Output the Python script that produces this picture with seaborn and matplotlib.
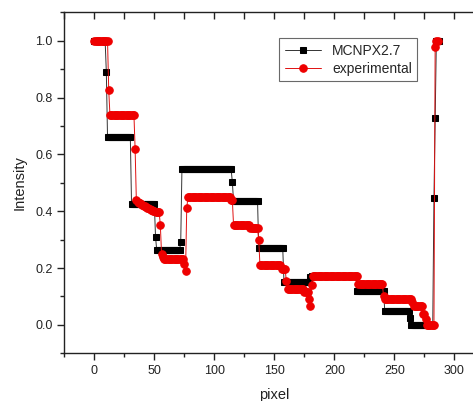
import numpy as np
import pandas as pd
import matplotlib
matplotlib.use("Agg")
import matplotlib.pyplot as plt
from matplotlib.ticker import MultipleLocator, FormatStrFormatter
import seaborn as sns

# MCNPX2.7 simulation: step levels and how many pixels each level lasts
mcnp_levels = [1.0, 0.89, 0.66, 0.425, 0.31, 0.262, 0.293, 0.548, 0.503, 0.436,
               0.27, 0.152, 0.167, 0.172, 0.12, 0.05, 0.025, 0.0, 0.445, 0.729, 1.0]
mcnp_counts = [10, 1, 20, 20, 1, 20, 1, 42, 1, 21,
               21, 22, 1, 38, 23, 21, 1, 19, 1, 1, 3]

# experimental profile, same run-length layout
exp_levels = [1.0, 0.826, 0.74, 0.618, 0.44,
              0.432, 0.43, 0.428, 0.425, 0.422, 0.42, 0.417, 0.415, 0.412, 0.41,
              0.407, 0.405, 0.403, 0.40, 0.40, 0.398, 0.398, 0.397, 0.397,
              0.352, 0.25, 0.24, 0.232, 0.215, 0.188, 0.41, 0.45, 0.44,
              0.352, 0.34, 0.30, 0.21, 0.195, 0.155, 0.125, 0.115, 0.09, 0.067, 0.14,
              0.173, 0.145, 0.10, 0.09, 0.08, 0.067, 0.04, 0.02, 0.0, 0.98, 1.0]
exp_counts = [12, 1, 21, 1, 1,
              1, 1, 1, 1, 1, 1, 1, 1, 1, 1,
              1, 1, 1, 1, 1, 1, 1, 1, 1,
              1, 1, 1, 17, 1, 1, 1, 36, 2,
              14, 7, 1, 18, 4, 1, 14, 4, 1, 1, 1,
              38, 21, 1, 23, 1, 8, 2, 1, 7, 1, 2]

mcnp = np.repeat(mcnp_levels, mcnp_counts)
exp = np.repeat(exp_levels, exp_counts)
df_mcnp = pd.DataFrame({"pixel": np.arange(len(mcnp)), "Intensity": mcnp})
df_exp = pd.DataFrame({"pixel": np.arange(len(exp)), "Intensity": exp})

sns.set_style("white")
plt.rcParams["font.family"] = ["Liberation Sans", "DejaVu Sans"]

fig = plt.figure(figsize=(4.73, 4.01), dpi=100)
ax = fig.add_axes([0.136, 0.119, 0.888, 0.850])

sns.lineplot(data=df_mcnp, x="pixel", y="Intensity", ax=ax, color="#333333",
             linewidth=0.7, marker="s", markersize=4.6, markerfacecolor="black",
             markeredgecolor="black", estimator=None, sort=False, label="MCNPX2.7")
sns.lineplot(data=df_exp, x="pixel", y="Intensity", ax=ax, color="#e01010",
             linewidth=0.7, marker="o", markersize=5.4, markerfacecolor="#ee0000",
             markeredgecolor="#ee0000", estimator=None, sort=False, label="experimental")

ax.set_xlim(-25, 325)
ax.set_ylim(-0.1, 1.1)
ax.xaxis.set_major_locator(MultipleLocator(50))
ax.xaxis.set_minor_locator(MultipleLocator(25))
ax.yaxis.set_major_locator(MultipleLocator(0.2))
ax.yaxis.set_minor_locator(MultipleLocator(0.1))
ax.yaxis.set_major_formatter(FormatStrFormatter("%.1f"))

for s in ax.spines.values():
    s.set_color("#222222")
    s.set_linewidth(1.0)

ax.tick_params(which="both", direction="out", top=False, left=True, bottom=True,
               color="#222222", labelsize=9, labelcolor="#222222")
ax.tick_params(which="major", length=5, width=1)
ax.tick_params(which="minor", length=3, width=1)

# top axis: ticks pointing into the plot, no labels
top = ax.secondary_xaxis("top")
top.xaxis.set_major_locator(MultipleLocator(50))
top.xaxis.set_minor_locator(MultipleLocator(25))
top.tick_params(which="both", direction="in", length=5, width=1,
                color="#222222", labeltop=False)
top.spines["top"].set_visible(False)

ax.set_xlabel("pixel", fontsize=10.5, labelpad=8, color="#222222")
ax.set_ylabel("Intensity", fontsize=10.5, labelpad=6, color="#222222")

leg = ax.legend(loc="upper left", bbox_to_anchor=(0.495, 0.945), frameon=True,
                fancybox=False, edgecolor="#444444", fontsize=10,
                handlelength=2.6, borderpad=0.4, labelspacing=0.3)
leg.get_frame().set_linewidth(0.8)

fig.savefig("out.png", dpi=100)
